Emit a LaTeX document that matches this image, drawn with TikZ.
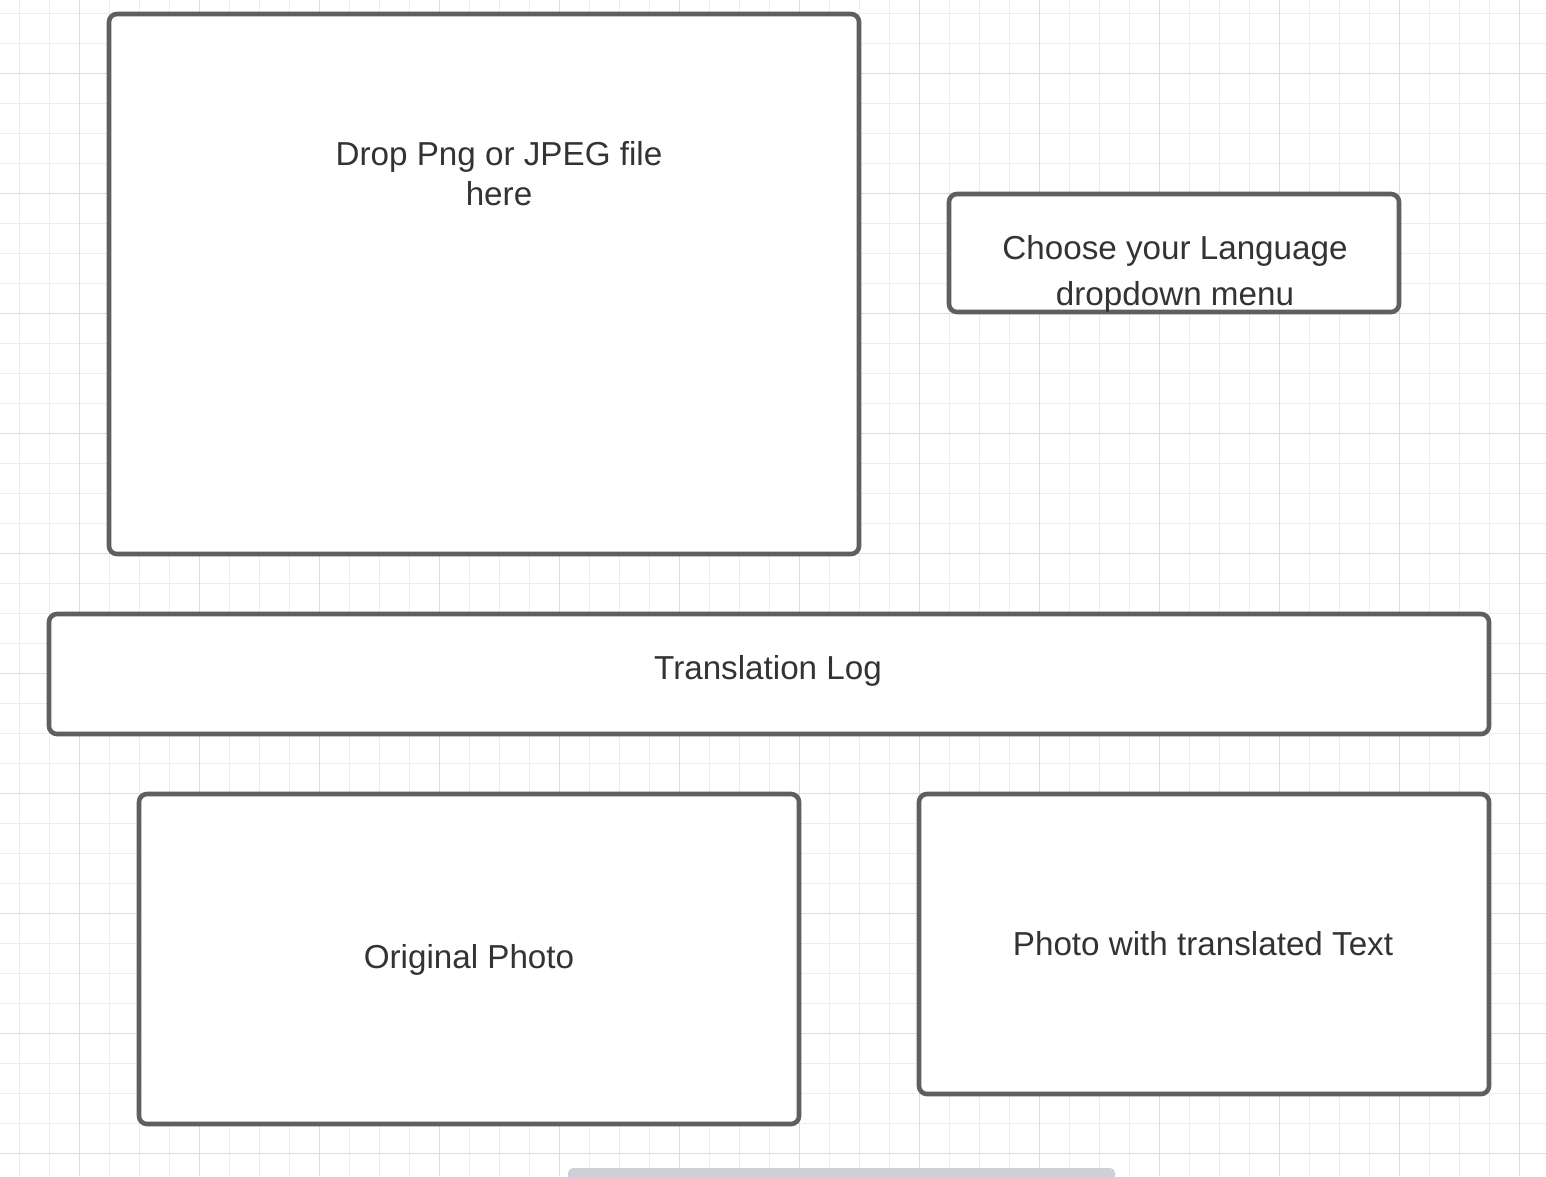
\documentclass[tikz,border=0pt]{standalone}
\usepackage{fontspec}
\setmainfont{Liberation Sans}
\definecolor{minorgrid}{HTML}{EDEDED}
\definecolor{majorgrid}{HTML}{DDDDDD}
\definecolor{boxline}{HTML}{5F5F5F}
\definecolor{txt}{HTML}{333333}
\definecolor{barcol}{HTML}{CDD0D6}
\tikzset{
  panel/.style={draw=boxline, line width=4.6pt, rounded corners=8pt, fill=white, inner sep=0pt},
  label/.style={text=txt, font=\fontsize{33.2}{40}\selectfont, align=center, inner sep=0pt},
}
\begin{document}
\begin{tikzpicture}[x=1pt,y=-1pt]
\useasboundingbox (0,0) rectangle (1546,1176);
\fill[white] (0,0) rectangle (1546,1176);
% grid
\foreach \gx in {19,49,...,1546} \draw[minorgrid, line width=1pt] (\gx,0) -- (\gx,1176);
\foreach \gy in {13,43,...,1176} \draw[minorgrid, line width=1pt] (0,\gy) -- (1546,\gy);
\foreach \gx in {79,199,...,1546} \draw[majorgrid, line width=1pt] (\gx,0) -- (\gx,1176);
\foreach \gy in {73,193,...,1176} \draw[majorgrid, line width=1pt] (0,\gy) -- (1546,\gy);
% panels
\node[panel, minimum width=750pt, minimum height=540pt] (drop) at (484,284) {};
\node[panel, minimum width=450pt, minimum height=118pt] (lang) at (1174,253) {};
\node[panel, minimum width=1440pt, minimum height=120pt] (log) at (769,674) {};
\node[panel, minimum width=660pt, minimum height=330pt] (orig) at (469,959) {};
\node[panel, minimum width=570pt, minimum height=300pt] (trans) at (1204,944) {};
% labels
\node[label] (droptxt) at (499,174) {Drop Png or JPEG file\\here};
\node[label, font=\fontsize{33.2}{46}\selectfont] (langtxt) at (1175,274) {Choose your Language\\dropdown menu};
\node[label] (logtxt) at (768,671) {Translation Log};
\node[label] (origtxt) at (469,960) {Original Photo};
\node[label] (transtxt) at (1203,944) {Photo with translated Text};
% bottom bar
\fill[barcol, rounded corners=5pt] (568,1168) rectangle (1115,1186);
\end{tikzpicture}
\end{document}
